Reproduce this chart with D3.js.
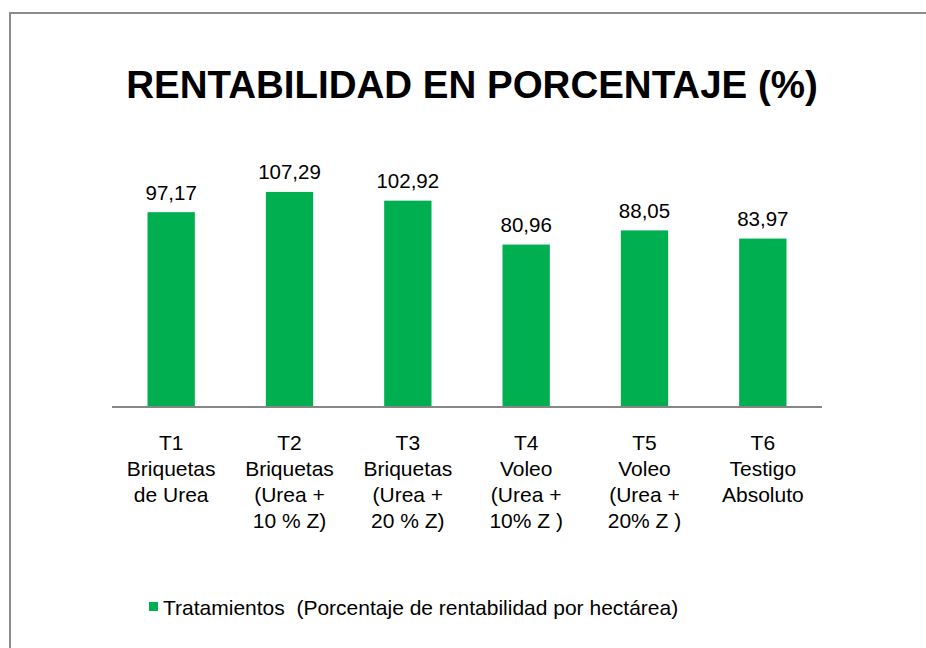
<!DOCTYPE html>
<html>
<head>
<meta charset="utf-8">
<script src="https://cdn.jsdelivr.net/npm/d3@7"></script>
<style>
  body { margin: 0; background: #fff; }
  svg { display: block; font-family: "Liberation Sans", Arial, sans-serif; }
</style>
</head>
<body>
<div id="chart"></div>
<script>
// data
const categories = ["T1", "T2", "T3", "T4", "T5", "T6"];
const categoryLines = [
    ["T1", "Briquetas", "de Urea"],
    ["T2", "Briquetas", "(Urea +", "10 % Z)"],
    ["T3", "Briquetas", "(Urea +", "20 % Z)"],
    ["T4", "Voleo", "(Urea +", "10% Z )"],
    ["T5", "Voleo", "(Urea +", "20% Z )"],
    ["T6", "Testigo", "Absoluto"]
];
const values = [97.17, 107.29, 102.92, 80.96, 88.05, 83.97];
const valueLabels = ["97,17", "107,29", "102,92", "80,96", "88,05", "83,97"];
const seriesName = "Tratamientos  (Porcentaje de rentabilidad por hectárea)";

const width = 926, height = 648;
const green = "#00b050";

const svg = d3.select("#chart").append("svg")
    .attr("width", width)
    .attr("height", height);

// chart area border
svg.append("rect")
    .attr("x", 10).attr("y", 13)
    .attr("width", 930).attr("height", 650)
    .attr("fill", "none")
    .attr("stroke", "#8c8c8c")
    .attr("stroke-width", 2);

svg.append("text")
    .attr("x", 472)
    .attr("y", 98)
    .attr("text-anchor", "middle")
    .style("font-size", "38.5px")
    .style("font-weight", "bold")
    .attr("fill", "#000")
    .text("RENTABILIDAD EN PORCENTAJE (%)");

const x = d3.scaleBand()
    .domain(categories)
    .range([112, 822])
    .paddingInner(0.6)
    .paddingOuter(0.3);

const y = d3.scaleLinear()
    .domain([0, 120])
    .range([406.5, 166.5]);

svg.selectAll("rect.bar")
    .data(values)
    .enter().append("rect")
    .attr("class", "bar")
    .attr("x", (d, i) => x(categories[i]))
    .attr("y", d => y(d))
    .attr("width", x.bandwidth())
    .attr("height", d => y(0) - y(d))
    .attr("fill", green);

svg.selectAll("text.value")
    .data(values)
    .enter().append("text")
    .attr("class", "value")
    .attr("x", (d, i) => x(categories[i]) + x.bandwidth() / 2)
    .attr("y", d => y(d) - 12.5)
    .attr("text-anchor", "middle")
    .style("font-size", "20.5px")
    .attr("fill", "#000")
    .text((d, i) => valueLabels[i]);

// baseline
svg.append("line")
    .attr("x1", 112).attr("x2", 822)
    .attr("y1", y(0) + 0.5).attr("y2", y(0) + 0.5)
    .attr("stroke", "#868686")
    .attr("stroke-width", 2);

// category labels, several lines each
const catText = svg.selectAll("text.cat")
    .data(categoryLines)
    .enter().append("text")
    .attr("class", "cat")
    .attr("text-anchor", "middle")
    .style("font-size", "21px")
    .attr("fill", "#000");

catText.selectAll("tspan")
    .data((d, i) => d.map(line => ({ line, i })))
    .enter().append("tspan")
    .attr("x", d => x(categories[d.i]) + x.bandwidth() / 2)
    .attr("y", (d, j) => 450 + j * 26)
    .text(d => d.line);

// legend
svg.append("rect")
    .attr("x", 149).attr("y", 602)
    .attr("width", 9).attr("height", 9)
    .attr("fill", green);

svg.append("text")
    .attr("x", 163)
    .attr("y", 615)
    .style("font-size", "21px")
    .style("white-space", "pre")
    .attr("fill", "#000")
    .text(seriesName);
</script>
</body>
</html>
